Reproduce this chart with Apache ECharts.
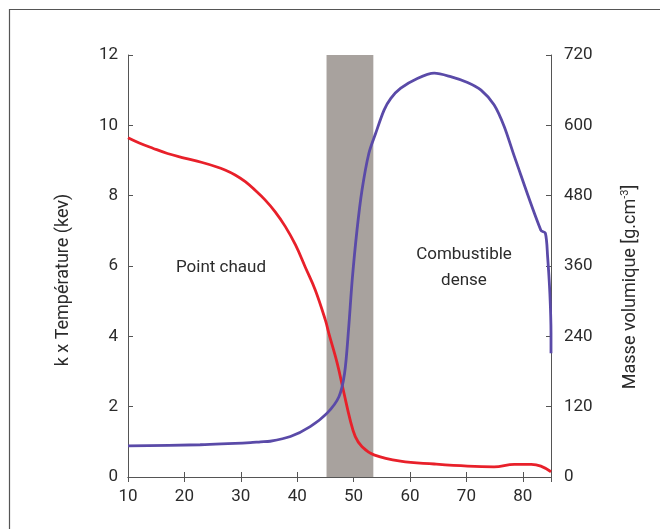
<!DOCTYPE html>
<html><head><meta charset="utf-8">
<script src="https://cdn.jsdelivr.net/npm/echarts@6/dist/echarts.min.js"></script>
<style>html,body{margin:0;padding:0;background:#fff}#c{width:660px;height:529px}</style>
</head><body><div id="c"></div>
<script>
// Temperature (left axis, kev)
var tempX = [10, 12, 14.4, 17, 20, 23, 25.5, 27.2, 29.0, 30.8, 32.5, 34.3, 36.1, 37.9, 39.7, 41.4, 43.2, 45.0, 45.6, 47.1, 48.3, 49.4, 50.3, 51.5, 53.6, 58.3, 64.3, 70.2, 74.9, 78.5, 81.5, 83.2, 85];
var tempY = [9.65, 9.5, 9.35, 9.2, 9.07, 8.95, 8.83, 8.73, 8.59, 8.40, 8.16, 7.88, 7.54, 7.12, 6.60, 5.98, 5.32, 4.46, 4.09, 3.23, 2.38, 1.62, 1.15, 0.86, 0.63, 0.45, 0.37, 0.31, 0.29, 0.36, 0.36, 0.31, 0.15];
// Density (right axis, g.cm-3)
var densX = [10, 22.8, 31.7, 33.5, 35.2, 38.8, 42.3, 45.3, 47.4, 48.4, 49.1, 49.75, 50.6, 51.5, 52.7, 53.9, 55.4, 56.6, 58.3, 61.3, 64.3, 67.2, 70.2, 72.6, 74.9, 76.7, 78.5, 83.2, 84.0, 84.4, 84.8, 85.0, 85.0];
var densY = [53, 55, 58.5, 60, 61, 69, 86, 109, 137, 177, 251, 336, 421, 490, 552, 586, 626, 646, 663, 680, 689, 683, 673, 660, 635, 598, 547, 421, 416, 376, 313, 245, 211];
// Shaded zone
var zoneX = [45.2, 53.5];
// Axis ranges
var xRange = [10, 85], xStep = 10;
var leftRange = [0, 12], leftStep = 2;
var rightRange = [0, 720], rightStep = 120;
var leftName = 'k x Température (kev)';
var annot1 = 'Point chaud';
var annot2 = 'Combustible\ndense';

var FONT = 'Roboto';
var TXT = '#2b2b2b';
var AX = '#555';
function pairs(xs, ys){ return xs.map(function(x,i){ return [x, ys[i]]; }); }

var chart = echarts.init(document.getElementById('c'));
var axisCommon = {
  axisLine: {show: true, lineStyle: {color: AX, width: 1}},
  axisTick: {show: true, inside: true, length: 5, lineStyle: {color: AX}},
  splitLine: {show: false}
};
chart.setOption({
  animation: false,
  backgroundColor: '#fff',
  grid: {left: 128, right: 109, top: 55, bottom: 52},
  xAxis: [
    Object.assign({type: 'value', min: xRange[0], max: xRange[1], interval: xStep, position: 'bottom',
      axisLabel: {color: TXT, fontFamily: FONT, fontSize: 17, margin: 11, showMaxLabel: false}}, axisCommon),
    Object.assign({type: 'value', min: xRange[0], max: xRange[1], interval: xStep, position: 'top',
      axisLabel: {show: false}}, axisCommon)
  ],
  yAxis: [
    Object.assign({type: 'value', min: leftRange[0], max: leftRange[1], interval: leftStep, position: 'left',
      axisLabel: {color: TXT, fontFamily: FONT, fontSize: 17, margin: 10}}, axisCommon),
    Object.assign({type: 'value', min: rightRange[0], max: rightRange[1], interval: rightStep, position: 'right',
      axisLabel: {color: TXT, fontFamily: FONT, fontSize: 17, margin: 13}}, axisCommon)
  ],
  graphic: [
    {type: 'rect', shape: {x: 9.5, y: 9.5, width: 700, height: 600}, style: {fill: null, stroke: '#555', lineWidth: 1.2}, silent: true, z: -10},
    {type: 'text', x: 63, y: 280, rotation: Math.PI / 2,
      style: {text: leftName, fill: TXT, font: '18px ' + FONT, align: 'center', verticalAlign: 'middle'}},
    {type: 'text', x: 630, y: 287, rotation: Math.PI / 2,
      style: {text: '{a|Masse volumique [g.cm}{s|-3}{a|]}', align: 'center', verticalAlign: 'middle',
        rich: {a: {fill: TXT, fontFamily: FONT, fontSize: 18}, s: {fill: TXT, fontFamily: FONT, fontSize: 11, padding: [0, 0, 9, 0]}}}},
    {type: 'text', x: 221, y: 268, style: {text: annot1, fill: TXT, font: '17px ' + FONT, align: 'center', verticalAlign: 'middle'}},
    {type: 'text', x: 464, y: 268, style: {text: annot2, fill: TXT, font: '17px ' + FONT, align: 'center', verticalAlign: 'middle', lineHeight: 26}}
  ],
  series: [
    {type: 'line', xAxisIndex: 0, yAxisIndex: 0, data: pairs(tempX, tempY), showSymbol: false, smooth: 0.4,
      lineStyle: {color: '#e8202a', width: 2.8}, z: 3,
      markArea: {silent: true, itemStyle: {color: '#a8a29e', opacity: 1}, data: [[{xAxis: zoneX[0]}, {xAxis: zoneX[1]}]]}},
    {type: 'line', xAxisIndex: 0, yAxisIndex: 1, data: pairs(densX, densY), showSymbol: false, smooth: 0.3,
      lineStyle: {color: '#5a4aa8', width: 2.8}, z: 4}
  ]
});
</script></body></html>
